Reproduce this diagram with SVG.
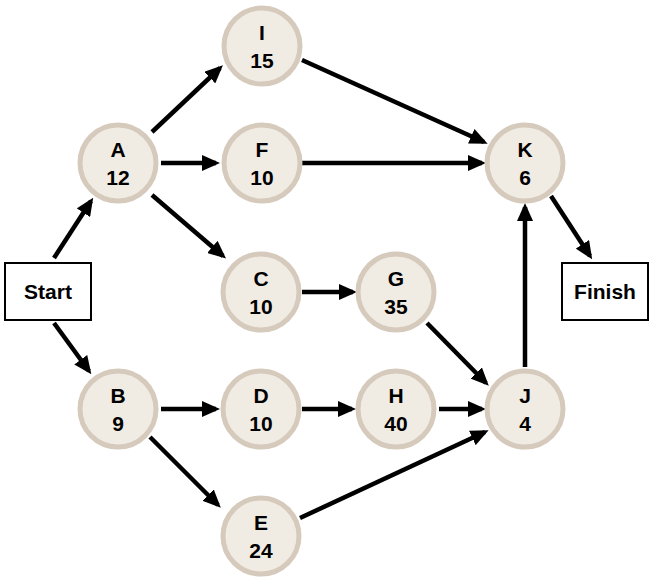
<svg xmlns="http://www.w3.org/2000/svg" width="656" height="586" viewBox="0 0 656 586">
<style>
.n circle{fill:#f0ece4;stroke:#d5cabc;stroke-width:5}
.b rect{fill:#fff;stroke:#000;stroke-width:2}
text{font-family:"Liberation Sans",Arial,sans-serif;font-weight:bold;font-size:21px;text-anchor:middle;fill:#000}
.e line{stroke:#000;stroke-width:4.5;marker-end:url(#ah)}
</style>
<defs>
<marker id="ah" markerUnits="userSpaceOnUse" markerWidth="18" markerHeight="16" refX="14" refY="8" orient="auto" viewBox="0 0 18 16">
<path d="M0,0 L18,8 L0,16 z" fill="#000"/>
</marker>
</defs>
<rect width="656" height="586" fill="#fff"/>
<g class="e" id="connectors">
<line x1="54" y1="258" x2="91" y2="201"/>
<line x1="54" y1="323" x2="89" y2="371"/>
<line x1="152" y1="132" x2="220" y2="68"/>
<line x1="161" y1="163" x2="216" y2="163"/>
<line x1="152" y1="195" x2="223" y2="256"/>
<line x1="302" y1="60" x2="484" y2="142"/>
<line x1="302" y1="163" x2="482" y2="163"/>
<line x1="302" y1="292" x2="353" y2="292"/>
<line x1="427" y1="323" x2="486" y2="383"/>
<line x1="161" y1="409" x2="216" y2="409"/>
<line x1="150" y1="437" x2="218" y2="505"/>
<line x1="302" y1="409" x2="352" y2="409"/>
<line x1="439" y1="409" x2="482" y2="409"/>
<line x1="300" y1="518" x2="485" y2="432"/>
<line x1="525" y1="367" x2="525" y2="207"/>
<line x1="551" y1="196" x2="590" y2="256"/>
</g>
<g class="b" id="Start"><rect x="5" y="263" width="86" height="57"/><text x="48" y="299">Start</text></g>
<g class="b" id="Finish"><rect x="562" y="263" width="86" height="57"/><text x="605" y="299">Finish</text></g>
<g class="n" id="I"><circle cx="262" cy="46" r="38"/><text x="262" y="40">I</text><text x="262" y="68">15</text></g>
<g class="n" id="A"><circle cx="118" cy="163" r="38"/><text x="118" y="157">A</text><text x="118" y="185">12</text></g>
<g class="n" id="F"><circle cx="262" cy="163" r="38"/><text x="262" y="157">F</text><text x="262" y="185">10</text></g>
<g class="n" id="K"><circle cx="525" cy="163" r="38"/><text x="525" y="157">K</text><text x="525" y="185">6</text></g>
<g class="n" id="C"><circle cx="261" cy="292" r="38"/><text x="261" y="286">C</text><text x="261" y="314">10</text></g>
<g class="n" id="G"><circle cx="396" cy="292" r="38"/><text x="396" y="286">G</text><text x="396" y="314">35</text></g>
<g class="n" id="B"><circle cx="118" cy="409" r="38"/><text x="118" y="403">B</text><text x="118" y="431">9</text></g>
<g class="n" id="D"><circle cx="261" cy="409" r="38"/><text x="261" y="403">D</text><text x="261" y="431">10</text></g>
<g class="n" id="H"><circle cx="396" cy="409" r="38"/><text x="396" y="403">H</text><text x="396" y="431">40</text></g>
<g class="n" id="J"><circle cx="525" cy="409" r="38"/><text x="525" y="403">J</text><text x="525" y="431">4</text></g>
<g class="n" id="E"><circle cx="261" cy="536" r="38"/><text x="261" y="530">E</text><text x="261" y="558">24</text></g>
</svg>
